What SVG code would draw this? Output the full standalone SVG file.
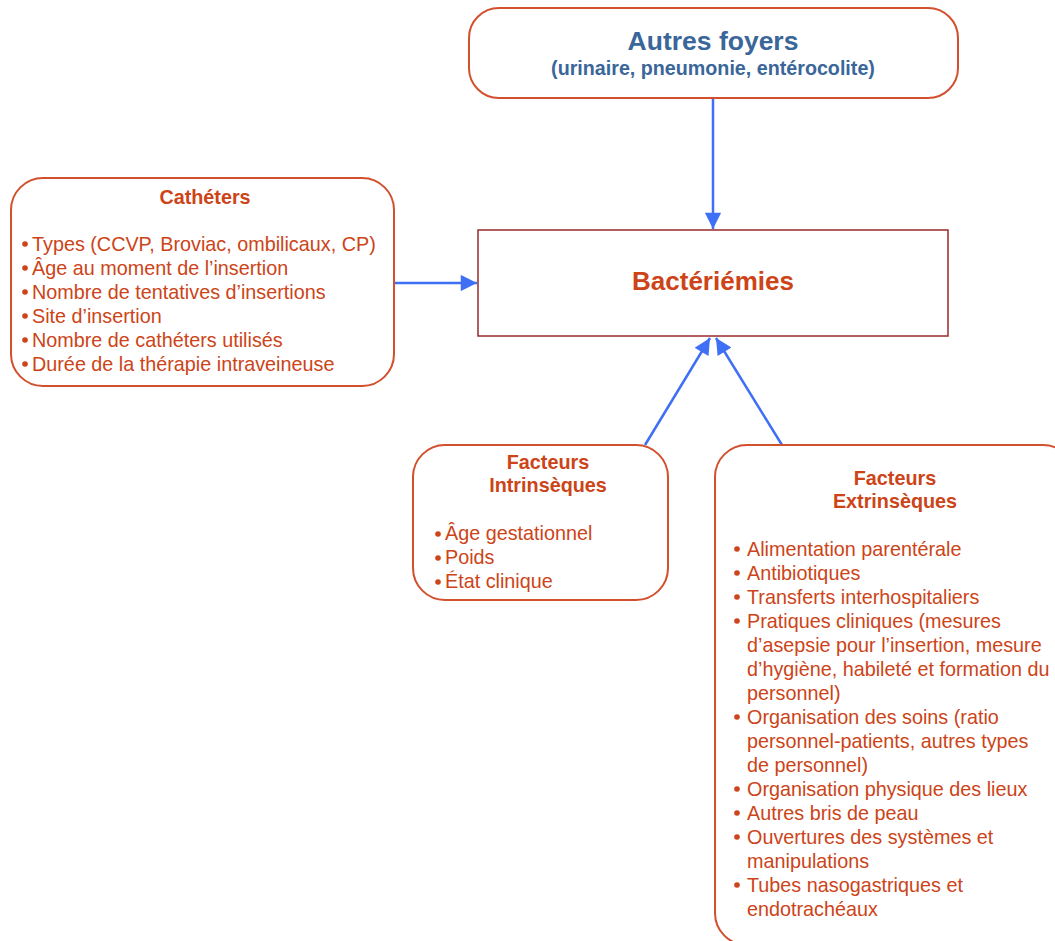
<svg xmlns="http://www.w3.org/2000/svg" width="1055" height="941" viewBox="0 0 1055 941">
<defs>
<style>
.box{fill:#fff;stroke:#d2502e;stroke-width:2}
.t{font-family:"Liberation Sans",Arial,sans-serif;fill:#cc4418}
.h{font-weight:bold;font-size:19.8px;text-anchor:middle}
.i{font-size:19.8px}
.b{fill:#cc4418}
.c{stroke:#3f6ff5;stroke-width:2.5;fill:none}
</style>
<marker id="ah" viewBox="0 0 10 10" refX="10" refY="5" markerWidth="7.5" markerHeight="6.5" markerUnits="strokeWidth" orient="auto">
<path d="M0,0 L10,5 L0,10 z" fill="#3f6ff5"/>
</marker>
</defs>
<rect width="1055" height="941" fill="#fff"/>
<g id="connectors">
<line class="c" x1="713" y1="98" x2="713" y2="229" marker-end="url(#ah)"/>
<line class="c" x1="394" y1="283" x2="477" y2="283" marker-end="url(#ah)"/>
<line class="c" x1="645" y1="445" x2="710" y2="338" marker-end="url(#ah)"/>
<line class="c" x1="782" y1="445" x2="716" y2="338" marker-end="url(#ah)"/>
</g>
<g id="autres-foyers">
<rect class="box" x="469" y="8" width="489" height="90" rx="30"/>
<text x="713" y="50" font-family="Liberation Sans,Arial,sans-serif" font-weight="bold" font-size="26.5" fill="#3a6699" text-anchor="middle">Autres foyers</text>
<text x="713" y="75" font-family="Liberation Sans,Arial,sans-serif" font-weight="bold" font-size="19.7" fill="#3a6699" text-anchor="middle">(urinaire, pneumonie, entérocolite)</text>
</g>
<g id="bacteriemies">
<rect x="478" y="230" width="470" height="106" fill="#fff" stroke="#9b2a2a" stroke-width="1.5"/>
<text class="t" x="713" y="290" font-weight="bold" font-size="26" text-anchor="middle">Bactériémies</text>
</g>
<g id="catheters">
<rect class="box" x="11" y="178" width="383" height="208" rx="32"/>
<text class="t h" x="205" y="204">Cathéters</text>
<g class="b"><circle cx="25" cy="244" r="2.8"/><circle cx="25" cy="268" r="2.8"/><circle cx="25" cy="292" r="2.8"/><circle cx="25" cy="316" r="2.8"/><circle cx="25" cy="340" r="2.8"/><circle cx="25" cy="364" r="2.8"/></g>
<text class="t i" x="32" y="251">Types (CCVP, Broviac, ombilicaux, CP)</text>
<text class="t i" x="32" y="275">Âge au moment de l’insertion</text>
<text class="t i" x="32" y="299">Nombre de tentatives d’insertions</text>
<text class="t i" x="32" y="323">Site d’insertion</text>
<text class="t i" x="32" y="347">Nombre de cathéters utilisés</text>
<text class="t i" x="32" y="371">Durée de la thérapie intraveineuse</text>
</g>
<g id="intrinseques">
<rect class="box" x="413" y="445" width="255" height="155" rx="32"/>
<text class="t h" x="548" y="469">Facteurs</text>
<text class="t h" x="548" y="492">Intrinsèques</text>
<g class="b"><circle cx="438" cy="534" r="2.8"/><circle cx="438" cy="558" r="2.8"/><circle cx="438" cy="582" r="2.8"/></g>
<text class="t i" x="445" y="540">Âge gestationnel</text>
<text class="t i" x="445" y="564">Poids</text>
<text class="t i" x="445" y="588">État clinique</text>
</g>
<g id="extrinseques">
<rect class="box" x="715" y="445" width="360" height="500" rx="32"/>
<text class="t h" x="895" y="485">Facteurs</text>
<text class="t h" x="895" y="508">Extrinsèques</text>
<g class="b"><circle cx="737" cy="549" r="2.8"/><circle cx="737" cy="573" r="2.8"/><circle cx="737" cy="597" r="2.8"/><circle cx="737" cy="621" r="2.8"/><circle cx="737" cy="717" r="2.8"/><circle cx="737" cy="789" r="2.8"/><circle cx="737" cy="813" r="2.8"/><circle cx="737" cy="837" r="2.8"/><circle cx="737" cy="885" r="2.8"/></g>
<text class="t i" x="747" y="556">Alimentation parentérale</text>
<text class="t i" x="747" y="580">Antibiotiques</text>
<text class="t i" x="747" y="604">Transferts interhospitaliers</text>
<text class="t i" x="747" y="628">Pratiques cliniques (mesures</text>
<text class="t i" x="747" y="652">d’asepsie pour l’insertion, mesure</text>
<text class="t i" x="747" y="676">d’hygiène, habileté et formation du</text>
<text class="t i" x="747" y="700">personnel)</text>
<text class="t i" x="747" y="724">Organisation des soins (ratio</text>
<text class="t i" x="747" y="748">personnel-patients, autres types</text>
<text class="t i" x="747" y="772">de personnel)</text>
<text class="t i" x="747" y="796">Organisation physique des lieux</text>
<text class="t i" x="747" y="820">Autres bris de peau</text>
<text class="t i" x="747" y="844">Ouvertures des systèmes et</text>
<text class="t i" x="747" y="868">manipulations</text>
<text class="t i" x="747" y="892">Tubes nasogastriques et</text>
<text class="t i" x="747" y="916">endotrachéaux</text>
</g>
</svg>
